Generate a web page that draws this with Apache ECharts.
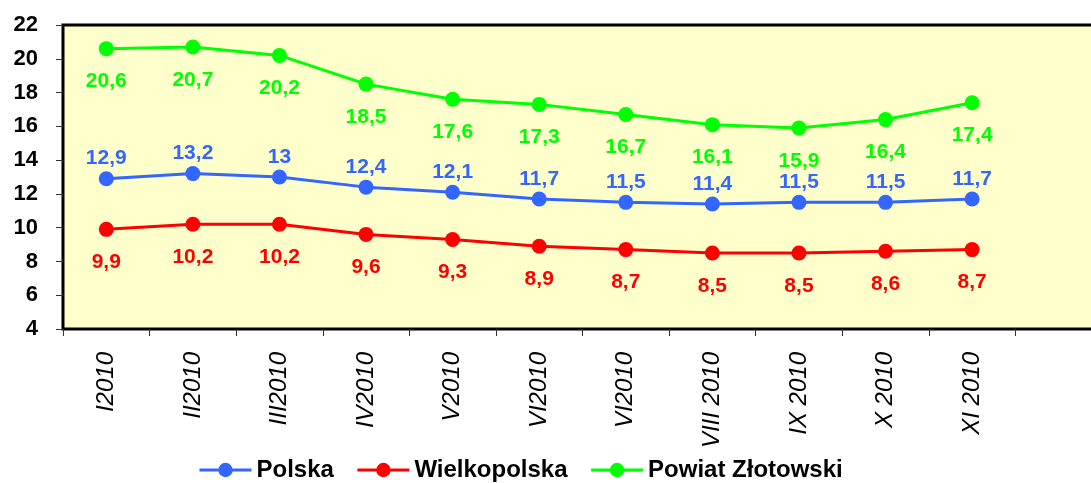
<!DOCTYPE html>
<html>
<head>
<meta charset="utf-8">
<script src="https://cdn.jsdelivr.net/npm/echarts@6/dist/echarts.min.js"></script>
<style>
html, body { margin: 0; padding: 0; background: #fff; }
#chart { width: 1091px; height: 483px; }
</style>
</head>
<body>
<div id="chart"></div>
<script>
// miesiace (ostatnia kategoria pusta, tak jak w oryginale)
var months = ['I2010', 'II2010', 'III2010', 'IV2010', 'V2010', 'VI2010', 'VI2010',
              'VIII 2010', 'IX 2010', 'X 2010', 'XI 2010', ''];
var polska       = [12.9, 13.2, 13, 12.4, 12.1, 11.7, 11.5, 11.4, 11.5, 11.5, 11.7];
var wielkopolska = [9.9, 10.2, 10.2, 9.6, 9.3, 8.9, 8.7, 8.5, 8.5, 8.6, 8.7];
var zlotowski    = [20.6, 20.7, 20.2, 18.5, 17.6, 17.3, 16.7, 16.1, 15.9, 16.4, 17.4];
var yTicks = [4, 22, 2]; // min, max, interval

var font = 'Liberation Sans, Arial, sans-serif';

function przecinek(p) {
    return String(p.value).replace('.', ',');
}

function seria(name, data, color, pos, dist) {
    return {
        name: name,
        type: 'line',
        data: data,
        symbol: 'circle',
        symbolSize: 15,
        lineStyle: { color: color, width: 3 },
        itemStyle: { color: color },
        label: {
            show: true,
            position: pos,
            distance: dist,
            color: color,
            fontFamily: font,
            fontWeight: 'bold',
            fontSize: 21,
            formatter: przecinek
        },
        animation: false
    };
}

var app = echarts.init(document.getElementById('chart'));
var option = {
    grid: {
        left: 63,
        top: 25,
        width: 1039,
        bottom: 154,
        outerBoundsMode: 'none',
        containLabel: false,
        show: true,
        backgroundColor: '#ffffcc',
        borderColor: '#000',
        borderWidth: 3
    },
    legend: {
        top: 458,
        left: 198,
        padding: 0,
        itemWidth: 52,
        itemHeight: 18,
        itemGap: 22,
        lineStyle: { width: 3 },
        textStyle: { color: '#000', fontFamily: font, fontWeight: 'bold', fontSize: 24 },
        data: ['Polska', 'Wielkopolska', 'Powiat Złotowski']
    },
    xAxis: {
        type: 'category',
        data: months,
        boundaryGap: true,
        axisLine: { show: false },
        axisTick: { show: true, length: 7, lineStyle: { color: '#333' } },
        axisLabel: {
            rotate: 90,
            interval: 0,
            margin: 23,
            color: '#000',
            fontFamily: font,
            fontStyle: 'italic',
            fontSize: 24
        },
        splitLine: { show: false }
    },
    yAxis: {
        type: 'value',
        min: yTicks[0],
        max: yTicks[1],
        interval: yTicks[2],
        axisLine: { show: false },
        axisTick: { show: true, length: 7, lineStyle: { color: '#333' } },
        axisLabel: {
            margin: 25,
            color: '#000',
            fontFamily: font,
            fontWeight: 'bold',
            fontSize: 22
        },
        splitLine: { show: false }
    },
    series: [
        seria('Polska', polska, '#3366ff', 'top', 2),
        seria('Wielkopolska', wielkopolska, '#ff0000', 'bottom', 15),
        seria('Powiat Złotowski', zlotowski, '#00ff00', 'bottom', 15)
    ]
};
app.setOption(option);
</script>
</body>
</html>
